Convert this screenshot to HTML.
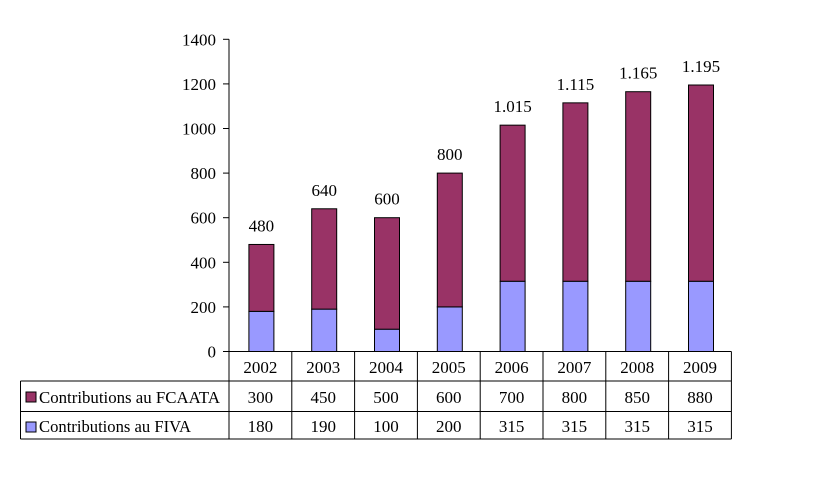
<!DOCTYPE html>
<html><head><meta charset="utf-8"><style>
html,body{margin:0;padding:0;background:#fff;}
svg{display:block;font-family:"Liberation Serif",serif;}
</style></head><body>
<svg id="chart" width="832" height="499" viewBox="0 0 832 499" xmlns="http://www.w3.org/2000/svg"></svg>
<script>
const categories=["2002","2003","2004","2005","2006","2007","2008","2009"];
const fcaata=[300,450,500,600,700,800,850,880];
const fiva=[180,190,100,200,315,315,315,315];
const totalLabels=["480","640","600","800","1.015","1.115","1.165","1.195"];
const yTicks=[0,200,400,600,800,1000,1200,1400];
const svg=document.getElementById('chart');
const NS="http://www.w3.org/2000/svg";
const x0=229,colW=62.8,yBase=351.5,yTop=39.3,yMax=1400;
const y=v=>yBase-(v/yMax)*(yBase-yTop);
const xc=i=>x0+colW*i+colW/2+1;
function mk(t,a,txt){const e=document.createElementNS(NS,t);for(const k in a)e.setAttribute(k,a[k]);if(txt!=null)e.textContent=txt;svg.appendChild(e);return e;}
let ax=mk('line',{x1:x0,y1:yTop,x2:x0,y2:yBase,stroke:'#000','stroke-width':1});


yTicks.forEach(v=>{
 let l=mk('line',{x1:x0-6,y1:y(v),x2:x0,y2:y(v),stroke:'#000'});
 
 
 let t=mk('text',{x:x0-13,y:y(v)+6,'text-anchor':'end','font-size':17},String(v));
 
 
});
categories.forEach((c,i)=>{
 const bw=25,bx=xc(i)-bw/2;
 let b1=mk('rect',{x:bx,y:y(fiva[i]),width:bw,height:yBase-y(fiva[i]),fill:'#9999FF',stroke:'#000','stroke-width':1});
 
 
 let b2=mk('rect',{x:bx,y:y(fiva[i]+fcaata[i]),width:bw,height:y(fiva[i])-y(fiva[i]+fcaata[i]),fill:'#993366',stroke:'#000','stroke-width':1});
 
 
 let t=mk('text',{x:xc(i),y:y(fiva[i]+fcaata[i])-13,'text-anchor':'middle','font-size':17},totalLabels[i]);
 
 
});
const r0=351.5,r1=381,r2=411.5,r3=439,tl=20.5,tr=x0+colW*8;
[[x0,r0,tr,r0],[tl,r1,tr,r1],[tl,r2,tr,r2],[tl,r3,tr,r3],[tl,r1,tl,r3],[tr,r0,tr,r3]].forEach(a=>{
 let l=mk('line',{x1:a[0],y1:a[1],x2:a[2],y2:a[3],stroke:'#000'});
 
 
});
for(let i=0;i<8;i++){
 let l=mk('line',{x1:x0+colW*i,y1:r0,x2:x0+colW*i,y2:r3,stroke:'#000'});
 
 
}
categories.forEach((c,i)=>{
 const cx=x0+colW*i+colW/2;
 let t=mk('text',{x:cx,y:373,'text-anchor':'middle','font-size':17},c);
 
 
 t=mk('text',{x:cx,y:403,'text-anchor':'middle','font-size':17},String(fcaata[i]));
 
 
 t=mk('text',{x:cx,y:432,'text-anchor':'middle','font-size':17},String(fiva[i]));
 
 
});
let k1=mk('rect',{x:26,y:392,width:10,height:10,fill:'#993366',stroke:'#000'});


let l1=mk('text',{x:39,y:403,'font-size':17,textLength:181,lengthAdjust:'spacingAndGlyphs'},'Contributions au FCAATA');


let k2=mk('rect',{x:26,y:422,width:10,height:10,fill:'#9999FF',stroke:'#000'});


let l2=mk('text',{x:39,y:432,'font-size':17,textLength:152,lengthAdjust:'spacingAndGlyphs'},'Contributions au FIVA');


</script>
</body></html>
